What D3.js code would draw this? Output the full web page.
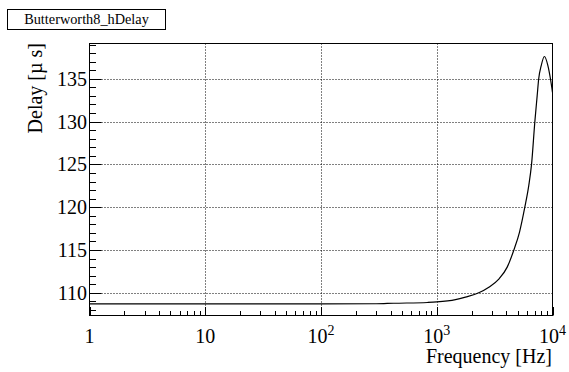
<!DOCTYPE html>
<html>
<head>
<meta charset="utf-8">
<script src="https://cdn.jsdelivr.net/npm/d3@7"></script>
<style>
  body { margin: 0; background: #fff; }
</style>
</head>
<body>
<div id="chart-area"></div>
<script>
const W = 569, H = 372
const FRAME = { LEFT: 89.5, RIGHT: 552.5, TOP: 43.5, BOTTOM: 315.5 }
const FONT = "\"Liberation Serif\", monospace"

// values
const freq  = [1, 10, 100, 300, 423, 832, 1000, 1452, 1771, 2307, 2818, 3437, 4061, 4637, 5190, 5765, 6240, 6590, 7040, 7370, 7600, 7980, 8510, 9100, 9600, 10000]
const delay = [108.71, 108.71, 108.71, 108.72, 108.78, 108.87, 108.93, 109.2, 109.5, 110.0, 110.65, 111.6, 113.0, 115.0, 117.1, 120.0, 122.55, 125.0, 130.0, 133.0, 135.0, 136.5, 137.6, 136.6, 135.0, 133.4]
const xMajor = [1, 10, 100, 1000, 10000]
const xLabels = [["1", ""], ["10", ""], ["10", "2"], ["10", "3"], ["10", "4"]]
const yMajor = [110, 115, 120, 125, 130, 135]
const title = "Butterworth8_hDelay"

const data = freq.map((f, i) => ({ f: f, d: delay[i] }))

const svg = d3.select("#chart-area").append("svg")
  .attr("width", W)
  .attr("height", H)

const x = d3.scaleLog()
  .domain([1, 10000])
  .range([FRAME.LEFT, FRAME.RIGHT])

const y = d3.scaleLinear()
  .domain([107.35, 139.12])
  .range([FRAME.BOTTOM, FRAME.TOP])

// grid
svg.append("g").selectAll("line")
  .data(xMajor.slice(1, -1))
  .enter().append("line")
    .attr("x1", d => Math.round(x(d)) + 0.5).attr("x2", d => Math.round(x(d)) + 0.5)
    .attr("y1", FRAME.TOP).attr("y2", FRAME.BOTTOM)
    .attr("stroke", "#000").attr("stroke-dasharray", "1,2")

svg.append("g").selectAll("line")
  .data(yMajor)
  .enter().append("line")
    .attr("x1", FRAME.LEFT).attr("x2", FRAME.RIGHT)
    .attr("y1", d => Math.round(y(d)) + 0.5).attr("y2", d => Math.round(y(d)) + 0.5)
    .attr("stroke", "#000").attr("stroke-dasharray", "1,2")

// x ticks (inward)
const xMinor = []
for (let dec = 1; dec < 10000; dec *= 10)
  for (let k = 2; k <= 9; k++) xMinor.push(dec * k)

svg.append("g").selectAll("line")
  .data(xMajor.map(v => ({ v: v, len: 8.5 })).concat(xMinor.map(v => ({ v: v, len: 4.5 }))))
  .enter().append("line")
    .attr("x1", d => Math.round(x(d.v)) + 0.5).attr("x2", d => Math.round(x(d.v)) + 0.5)
    .attr("y1", FRAME.BOTTOM).attr("y2", d => FRAME.BOTTOM - d.len)
    .attr("stroke", "#000")

// y ticks (inward)
const yTicks = d3.range(108, 140).map(v => ({ v: v, len: v % 5 === 0 ? 12 : 6.5 }))
svg.append("g").selectAll("line")
  .data(yTicks)
  .enter().append("line")
    .attr("x1", FRAME.LEFT).attr("x2", d => FRAME.LEFT + d.len)
    .attr("y1", d => Math.round(y(d.v)) + 0.5).attr("y2", d => Math.round(y(d.v)) + 0.5)
    .attr("stroke", "#000")

// curve
const line = d3.line()
  .x(d => x(d.f))
  .y(d => y(d.d))
  .curve(d3.curveMonotoneX)

svg.append("path")
  .datum(data)
  .attr("d", line)
  .attr("fill", "none")
  .attr("stroke", "#000")
  .attr("stroke-width", 1.2)

// frame
svg.append("rect")
  .attr("x", FRAME.LEFT).attr("y", FRAME.TOP)
  .attr("width", FRAME.RIGHT - FRAME.LEFT)
  .attr("height", FRAME.BOTTOM - FRAME.TOP)
  .attr("fill", "none").attr("stroke", "#000")

// y labels
svg.append("g").selectAll("text")
  .data(yMajor)
  .enter().append("text")
    .attr("x", 87)
    .attr("y", d => y(d) + 7)
    .attr("text-anchor", "end")
    .style("font-family", FONT)
    .style("font-size", "20px")
    .text(d => d)

// x labels
const xl = svg.append("g").selectAll("text")
  .data(xMajor)
  .enter().append("text")
    .attr("x", d => x(d))
    .attr("y", 343)
    .attr("text-anchor", "middle")
    .style("font-family", FONT)
    .style("font-size", "20px")
xl.append("tspan").text((d, i) => xLabels[i][0])
xl.append("tspan")
  .attr("dy", -8)
  .style("font-size", "14px")
  .text((d, i) => xLabels[i][1])

// axis titles
svg.append("text")
  .attr("x", 552)
  .attr("y", 363)
  .attr("text-anchor", "end")
  .style("font-family", FONT)
  .style("font-size", "20px")
  .text("Frequency [Hz]")

svg.append("text")
  .attr("transform", "translate(42, 43) rotate(-90)")
  .attr("text-anchor", "end")
  .style("font-family", FONT)
  .style("font-size", "20px")
  .text("Delay [\u00b5 s]")

// title box
svg.append("rect")
  .attr("x", 7.5).attr("y", 9.5)
  .attr("width", 158).attr("height", 20)
  .attr("fill", "#fff").attr("stroke", "#000")

svg.append("text")
  .attr("x", 86.5)
  .attr("y", 24)
  .attr("text-anchor", "middle")
  .style("font-family", FONT)
  .style("font-size", "14.3px")
  .text(title)
</script>
</body>
</html>
